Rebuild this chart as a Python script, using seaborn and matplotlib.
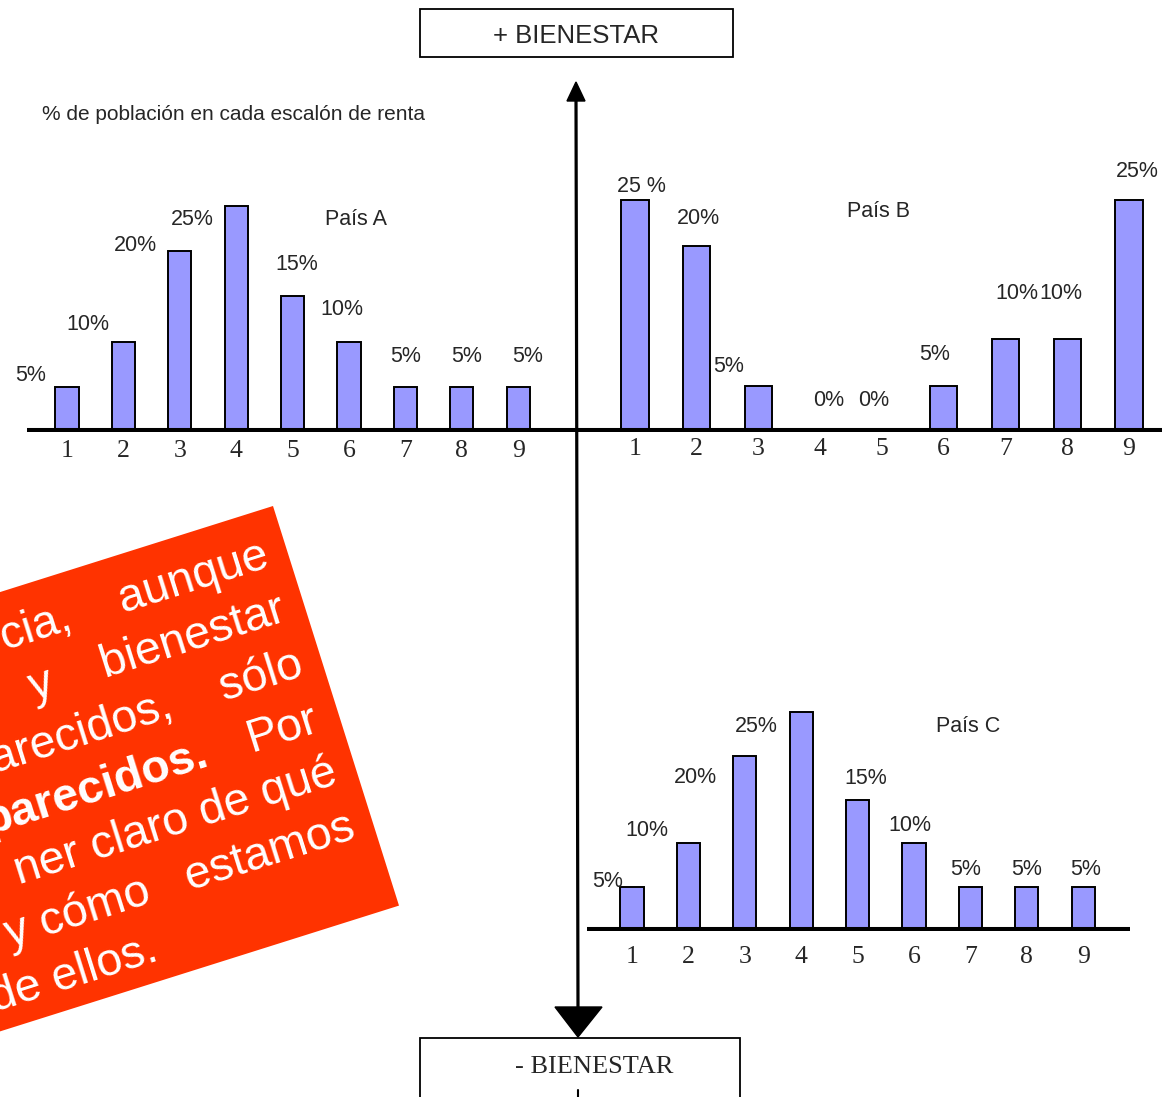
import numpy as np
import pandas as pd
import seaborn as sns
import matplotlib.pyplot as plt
from matplotlib.patches import Polygon, Rectangle

# datos: % de poblacion en cada escalon de renta
escalones = ["1", "2", "3", "4", "5", "6", "7", "8", "9"]
pais_a = [5, 10, 20, 25, 15, 10, 5, 5, 5]
pais_b = [25, 20, 5, 0, 0, 5, 10, 10, 25]
pais_c = [5, 10, 20, 25, 15, 10, 5, 5, 5]
etiq_a = ["5%", "10%", "20%", "25%", "15%", "10%", "5%", "5%", "5%"]
etiq_b = ["25 %", "20%", "5%", "0%", "0%", "5%", "10%", "10%", "25%"]
etiq_c = ["5%", "10%", "20%", "25%", "15%", "10%", "5%", "5%", "5%"]

W, H = 1167, 1097
SANS = "Liberation Sans"
SERIF = "Liberation Serif"
BAR = "#9999FF"

sns.set_style("white")
plt.rcParams['font.family'] = [SANS, 'DejaVu Sans']

fig = plt.figure(figsize=(W / 100, H / 100), dpi=100)

# capa de fondo en pixeles
bg = fig.add_axes([0, 0, 1, 1])
bg.set_xlim(0, W)
bg.set_ylim(H, 0)
bg.axis('off')

# cajas de bienestar
bg.add_patch(Rectangle((420, 9), 313, 48, fc='white', ec='black', lw=1.3))
bg.text(576, 36, "+ BIENESTAR", ha='center', va='center', fontsize=18.5, family=SANS)
bg.add_patch(Rectangle((420, 1038), 320, 80, fc='white', ec='black', lw=1.3))
bg.text(594, 1067, "- BIENESTAR", ha='center', va='center', fontsize=19, family=SERIF)

# eje vertical con flechas
bg.plot([576, 578], [98, 1010], color='black', lw=2.3, solid_capstyle='butt')
bg.add_patch(Polygon([(576, 82), (567, 101), (585, 101)], closed=True, fc='black', ec='black'))
bg.add_patch(Polygon([(578, 1037), (555, 1007), (602, 1007)], closed=True, fc='black', ec='black'))
bg.plot([578, 578], [1090, 1097], color='black', lw=1.5)

bg.text(42, 114, "% de población en cada escalón de renta", ha='left', va='center', fontsize=15)

# recuadro rojo girado
th = np.deg2rad(17.5)
u = np.array([np.cos(th), -np.sin(th)])
v = np.array([np.sin(th), np.cos(th)])
tr = np.array([273.0, 506.0])
bw, bh = 720, 419
corners = [tr, tr + bh * v, tr - bw * u + bh * v, tr - bw * u]
bg.add_patch(Polygon(corners, closed=True, fc='#FF3300', ec='none'))


def bpt(a, b):
    p = tr + a * u + b * v
    return p[0], p[1]


red_lines = [
    ("cia,    aunque", -20, 57, 'normal'),
    ("y    bienestar", -20, 114, 'normal'),
    ("arecidos,    sólo", -20, 171, 'normal'),
    ("Por", -22, 228, 'normal'),
    ("parecidos.", -137, 228, 'bold'),
    ("ner claro de qué", -20, 285, 'normal'),
    ("y cómo   estamos", -20, 342, 'normal'),
    ("de ellos.", -244, 399, 'normal'),
]
for txt, a, b, wgt in red_lines:
    x, y = bpt(a, b)
    bg.text(x, y, txt, ha='right', va='baseline', rotation=17.5, rotation_mode='anchor',
            color='white', fontsize=33.5, fontweight=wgt, family=SANS)


def panel(vals, labels, name, left, right, top, y0, first, step, scale, width,
          dx, dy, name_xy, pad, boundary_ticks=False):
    ax = fig.add_axes([left / W, 1 - y0 / H, (right - left) / W, (y0 - top) / H])
    df = pd.DataFrame({"escalon": escalones, "pct": vals})
    sns.barplot(data=df, x="escalon", y="pct", color=BAR, saturation=1,
                edgecolor='black', linewidth=1.4, width=width, ax=ax)
    ax.set_facecolor('none')
    ax.set_xlim((left - first) / step, (right - first) / step)
    ax.set_ylim(0, (y0 - top) / scale)
    for s in ax.spines.values():
        s.set_visible(False)
    ax.set_xlabel("")
    ax.set_ylabel("")
    ax.set_yticks([])
    ax.set_xticks(range(len(escalones)))
    ax.set_xticklabels(escalones, fontsize=18.5, family=SERIF)
    ax.tick_params(axis='x', length=0, pad=pad)
    if boundary_ticks:
        ax.set_xticks(np.arange(-0.5, len(escalones)), minor=True)
        ax.tick_params(axis='x', which='minor', length=7, width=1.2, color='black', direction='out')
    ax.axhline(0, color='black', lw=5.8, zorder=5)
    for i, (val, lab) in enumerate(zip(vals, labels)):
        ax.text(i + dx[i], val + dy[i], lab, ha='center', va='center', fontsize=15.5, clip_on=False)
    ax.text(name_xy[0], name_xy[1], name, ha='center', va='center', fontsize=15.5)
    return ax


panel(pais_a, etiq_a, "País A", 27, 576, 150, 432, 67, 56.4, 9.04, 0.41,
      [-0.64, -0.63, -0.78, -0.78, 0.08, -0.12, 0.01, 0.09, 0.16],
      [1.2, 1.9, 0.6, -1.5, 3.5, 3.5, 3.4, 3.4, 3.4],
      (5.12, 23.5), 5.5)

panel(pais_b, etiq_b, "País B", 576, 1162, 150, 432, 635, 61.75, 9.3, 0.44,
      [0.10, 0.02, -0.48, 0.13, -0.13, -0.14, 0.19, -0.10, 0.13],
      [1.4, 3.0, 2.0, 3.4, 3.4, 3.3, 4.9, 4.9, 3.0],
      (3.95, 23.7), 4.5)

panel(pais_c, etiq_c, "País C", 587, 1130, 680, 931, 632, 56.4, 8.76, 0.41,
      [-0.43, -0.73, -0.87, -0.80, 0.15, -0.07, -0.08, -0.01, 0.05],
      [0.6, 1.5, -2.5, -1.7, 2.4, 2.1, 2.0, 2.0, 2.0],
      (5.96, 23.3), 11, boundary_ticks=True)

fig.savefig("out.png", dpi=100)
